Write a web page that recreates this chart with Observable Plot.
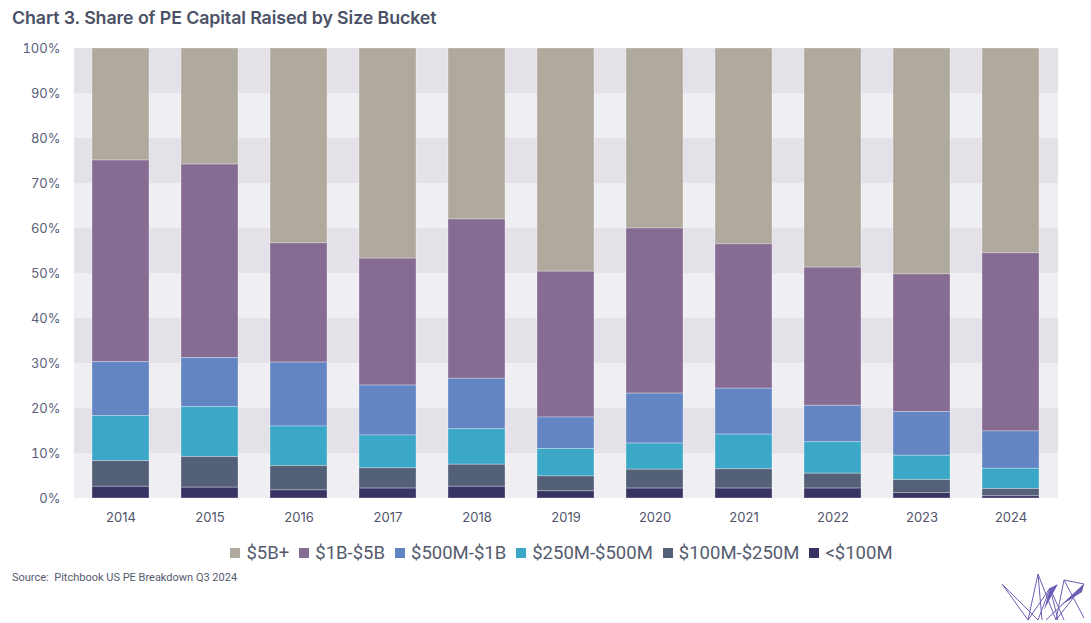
<!DOCTYPE html>
<html>
<head>
<meta charset="utf-8">
<script src="https://cdn.jsdelivr.net/npm/d3@7"></script>
<script src="https://cdn.jsdelivr.net/npm/@observablehq/plot@0.6"></script>
<style>
  html, body { margin: 0; padding: 0; background: #fff; }
  body { width: 1091px; height: 623px; position: relative; overflow: hidden; font-family: Inter, Roboto, "Noto Sans", sans-serif; }
  #title { position: absolute; left: 12px; top: 7px; font-size: 17.8px; font-weight: 600; color: #4b5166; letter-spacing: -0.1px; }
  #chart { position: absolute; left: 0; top: 38px; }
  #legend { position: absolute; left: 32px; width: 1059px; top: 542px; text-align: center; font-size: 18.5px; color: #555b6e; font-family: Roboto, Inter, sans-serif; }
  #legend span.item { display: inline-block; margin: 0 5px; white-space: nowrap; }
  #legend span.sw { display: inline-block; width: 10px; height: 10px; margin-right: 6px; vertical-align: 1px; }
  #source { position: absolute; left: 12px; top: 571px; font-size: 11px; color: #555b6e; font-family: Roboto, Inter, sans-serif; }
  #logo { position: absolute; left: 998px; top: 570px; }
</style>
</head>
<body>
<div id="title">Chart 3. Share of PE Capital Raised by Size Bucket</div>
<div id="chart"></div>
<div id="legend"></div>
<div id="source">Source:&nbsp; Pitchbook US PE Breakdown Q3 2024</div>
<svg id="logo" width="90" height="52" viewBox="0 0 90 52">
  <g stroke="#6b60b5" stroke-width="1" fill="none">
    <path d="M4 14 L30 50 L40 4 L58 50 L66 10 L86 48"/>
    <path d="M4 14 L40 50 L52 18 L66 50"/>
    <path d="M30 50 L52 18 L60 50"/>
    <path d="M40 4 L44 50"/>
    <path d="M58 50 L86 14 L66 10"/>
    <path d="M48 50 L86 14"/>
  </g>
  <path d="M52 18 L60 14 L46 40 Z" fill="#6b60b5"/>
  <path d="M86 14 L62 36 L84 22 Z" fill="#6b60b5"/>
</svg>
<script>
const years = ["2014","2015","2016","2017","2018","2019","2020","2021","2022","2023","2024"];
const seriesNames = ["$5B+", "$1B-$5B", "$500M-$1B", "$250M-$500M", "$100M-$250M", "<$100M"];
const seriesColors = ["#b0a99d", "#866b92", "#6385c4", "#3ba8c8", "#546077", "#373463"];

const s5Bplus   = [24.9, 25.8, 43.3, 46.7, 38.0, 49.6, 40.0, 43.5, 48.7, 50.2, 45.5];
const s1Bto5B   = [44.8, 43.0, 26.5, 28.2, 35.4, 32.4, 36.7, 32.1, 30.7, 30.6, 39.6];
const s500Mto1B = [12.0, 10.9, 14.2, 11.1, 11.2,  7.0, 11.1, 10.2,  8.1,  9.7,  8.3];
const s250to500 = [10.0, 11.1,  8.8,  7.3,  7.9,  6.1,  5.8,  7.7,  7.0,  5.4,  4.5];
const s100to250 = [ 5.7,  6.8,  5.4,  4.5,  4.9,  3.3,  4.2,  4.3,  3.3,  2.9,  1.6];
const sUnder100 = [ 2.6,  2.4,  1.8,  2.2,  2.6,  1.6,  2.2,  2.2,  2.2,  1.2,  0.5];

const yTicks = [0, 10, 20, 30, 40, 50, 60, 70, 80, 90, 100];

const seriesValues = [s5Bplus, s1Bto5B, s500Mto1B, s250to500, s100to250, sUnder100];
const data = [];
seriesNames.forEach((name, i) => {
  years.forEach((yr, j) => data.push({year: yr, bucket: name, value: seriesValues[i][j]}));
});
const stackOrder = seriesNames.slice().reverse();

const bands = yTicks.slice(0, -1).map((t, i) => ({y1: t, y2: yTicks[i + 1], dark: i % 2 === 1}));

const chart = Plot.plot({
  width: 1091,
  height: 491,
  marginTop: 10,
  marginBottom: 31,
  marginLeft: 74,
  marginRight: 33,
  style: {background: "#fff", fontFamily: "Inter, Roboto, sans-serif"},
  x: {domain: years, paddingInner: 0.358, paddingOuter: 0.187, label: null},
  y: {domain: [0, 100], label: null},
  color: {domain: seriesNames, range: seriesColors},
  marks: [
    Plot.rect(bands, {y1: "y1", y2: "y2", fill: d => d.dark ? "#e4e2e8" : "#efeef2"}),
    Plot.barY(data, {
      x: "year", y: "value", fill: "bucket", z: "bucket",
      order: stackOrder,
      stroke: "#ffffff", strokeOpacity: 0.3, strokeWidth: 1
    }),
    Plot.axisY({ticks: yTicks, tickFormat: d => d + "%", tickSize: 0, tickPadding: 14,
      fontSize: 13, fill: "#5a6078", style: "letter-spacing:1px"}),
    Plot.axisX({tickSize: 0, tickPadding: 14, fontSize: 13, fill: "#4f556a", style: "letter-spacing:0.6px"})
  ]
});
document.getElementById("chart").appendChild(chart);

const legend = document.getElementById("legend");
seriesNames.forEach((name, i) => {
  const item = document.createElement("span");
  item.className = "item";
  const sw = document.createElement("span");
  sw.className = "sw";
  sw.style.background = seriesColors[i];
  item.appendChild(sw);
  item.appendChild(document.createTextNode(name));
  legend.appendChild(item);
});
</script>
</body>
</html>
